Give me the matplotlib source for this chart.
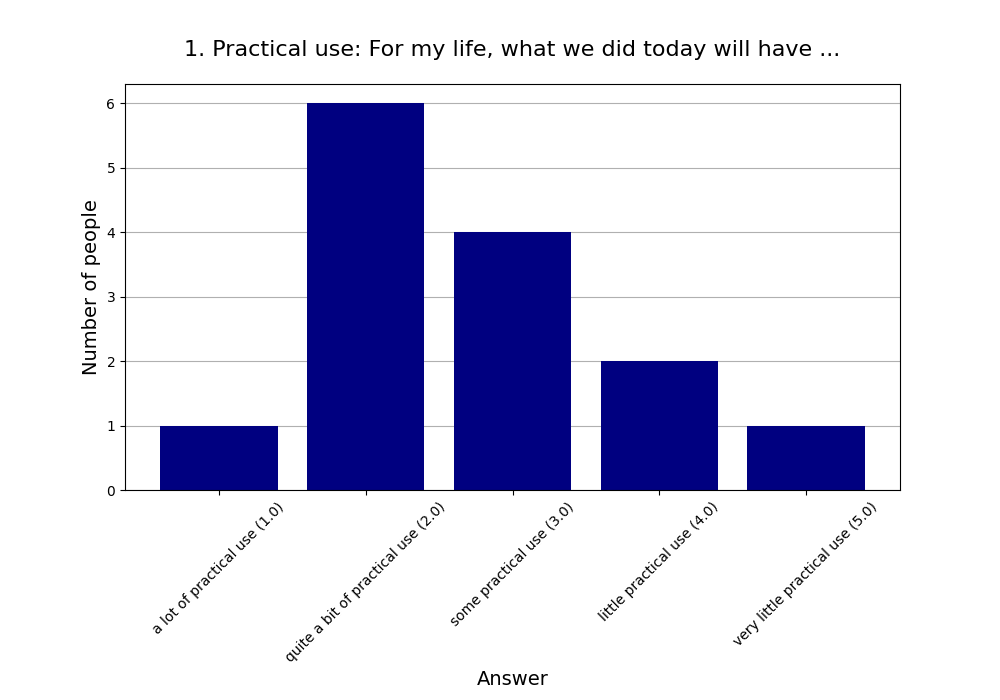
import matplotlib
matplotlib.use("Agg")
import matplotlib.pyplot as plt

answers = ["a lot of practical use (1.0)", "quite a bit of practical use (2.0)",
           "some practical use (3.0)", "little practical use (4.0)",
           "very little practical use (5.0)"]
counts = [1, 6, 4, 2, 1]

fig, ax = plt.subplots(figsize=(10, 7), dpi=100)
fig.subplots_adjust(bottom=0.3)
ax.set_axisbelow(True)
ax.yaxis.grid(True, color="#b0b0b0")
ax.bar(answers, counts, color="navy")
ax.set_title("1. Practical use: For my life, what we did today will have ...", fontsize=16, pad=20)
ax.set_xlabel("Answer", fontsize=14)
ax.set_ylabel("Number of people", fontsize=14)
plt.xticks(rotation=45)
fig.savefig("out.png")
